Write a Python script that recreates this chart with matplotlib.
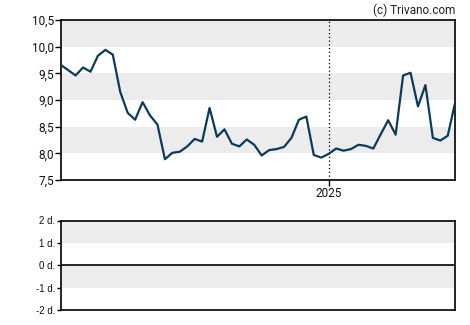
import pandas as pd
import matplotlib
matplotlib.use("Agg")
import matplotlib.pyplot as plt
import matplotlib.dates as mdates

# weekly closing prices
prices = [9.66, 9.56, 9.46, 9.61, 9.53, 9.83, 9.94, 9.85, 9.15, 8.76,
          8.63, 8.96, 8.71, 8.54, 7.89, 8.01, 8.03, 8.13, 8.27, 8.22,
          8.85, 8.31, 8.45, 8.18, 8.13, 8.26, 8.16, 7.96, 8.06, 8.08,
          8.12, 8.29, 8.63, 8.69, 7.97, 7.92, 7.99, 8.09, 8.05, 8.08,
          8.16, 8.14, 8.09, 8.36, 8.62, 8.35, 9.46, 9.51, 8.88, 9.28,
          8.29, 8.24, 8.33, 8.96]
dates = pd.date_range("2024-04-24", periods=len(prices), freq="7D")

price_ticks = [7.5, 8.0, 8.5, 9.0, 9.5, 10.0, 10.5]
price_labels = ["7,5", "8,0", "8,5", "9,0", "9,5", "10,0", "10,5"]
price_bands = [(8.0, 8.5), (9.0, 9.5), (10.0, 10.5)]

sub_ticks = [-2, -1, 0, 1, 2]
sub_labels = ["-2 d.", "-1 d.", "0 d.", "1 d.", "2 d."]
sub_bands = [(-1, 0), (1, 2)]

year_mark = pd.Timestamp("2025-01-01")

W, H = 470, 325
fig = plt.figure(figsize=(W / 100, H / 100), dpi=100)
line_color = "#0c3a5b"
band_color = "#ececec"

# Main price panel
ax = fig.add_axes([60.7 / W, 1 - 180 / H, 394.5 / W, 160 / H])
for lo, hi in price_bands:
    ax.axhspan(lo, hi, color=band_color, lw=0, zorder=0)
ax.plot(dates, prices, color=line_color, lw=1.6, zorder=3)
ax.axvline(year_mark, color="black", lw=0.9, ls=(0, (1, 2)), zorder=2)
ax.set_xlim(dates[0], dates[-1])
ax.set_ylim(7.5, 10.5)
ax.set_yticks(price_ticks)
ax.set_yticklabels(price_labels, fontfamily="Roboto", fontsize=8.5, color="#111111")
ax.set_xticks([year_mark])
ax.set_xticklabels(["2025"], fontfamily="Roboto", fontsize=8.5, color="#111111")
ax.tick_params(length=4, width=1, pad=1)
for s in ax.spines.values():
    s.set_linewidth(1.2)

fig.text(455 / W, 1 - 10 / H, "(c) Trivano.com", ha="right", va="center",
         fontfamily="Roboto", fontsize=8.5, color="#222222")

# Lower panel
ax2 = fig.add_axes([60.7 / W, 1 - 310 / H, 394.5 / W, 89.5 / H])
for lo, hi in sub_bands:
    ax2.axhspan(lo, hi, color=band_color, lw=0, zorder=0)
ax2.axhline(0, color="black", lw=1.2, zorder=2)
ax2.set_xlim(dates[0], dates[-1])
ax2.set_ylim(-2, 2)
ax2.set_yticks(sub_ticks)
ax2.set_yticklabels(sub_labels, fontfamily="Liberation Sans", fontsize=7, color="#111111")
ax2.set_xticks([])
ax2.tick_params(axis="y", length=3, width=1, pad=1)
for s in ax2.spines.values():
    s.set_linewidth(1.2)

fig.savefig("out.png", dpi=100)
